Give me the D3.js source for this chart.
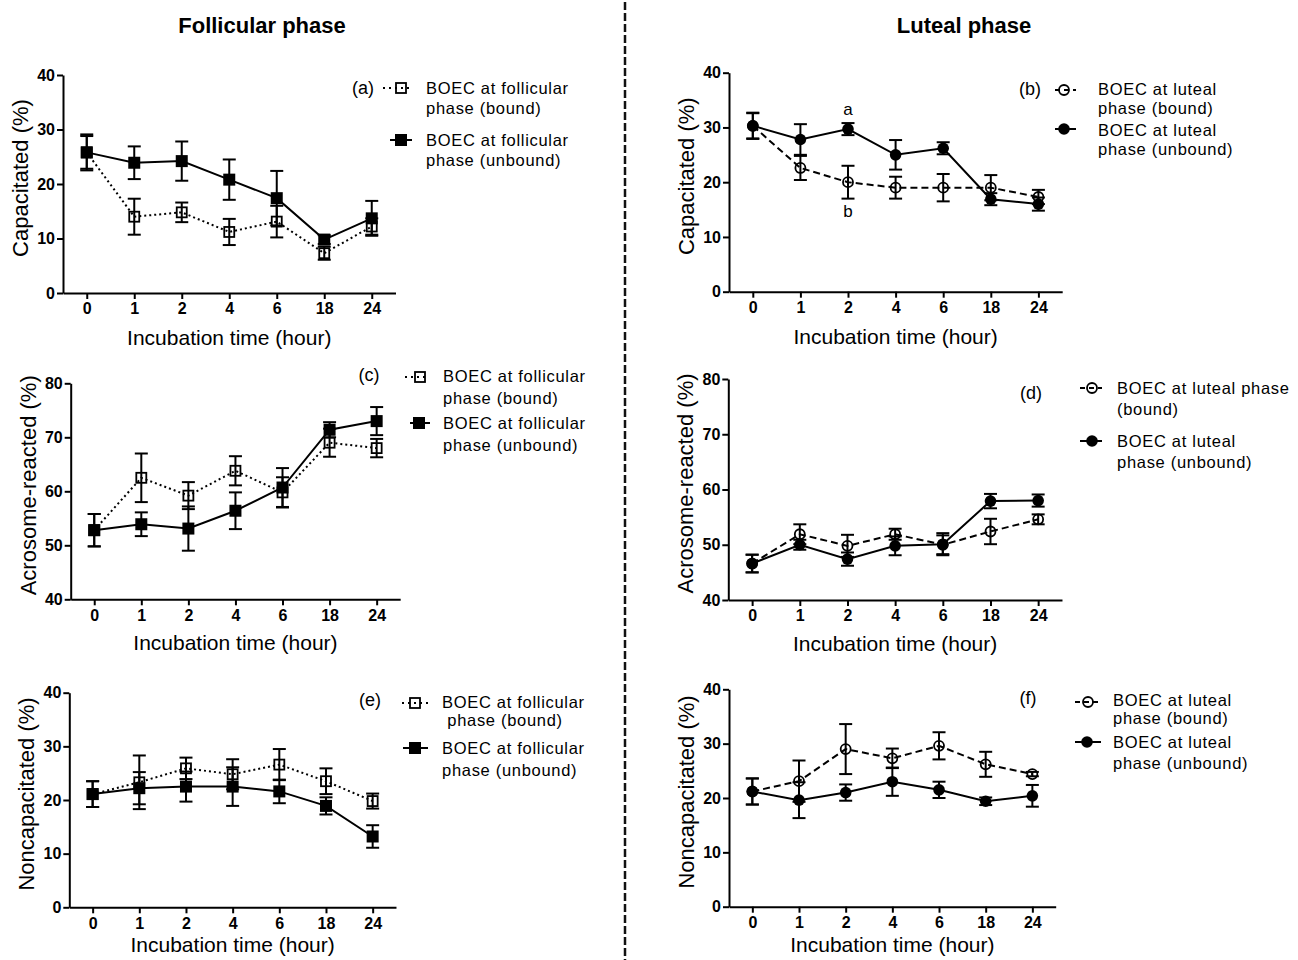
<!DOCTYPE html>
<html>
<head>
<meta charset="utf-8">
<script src="https://cdn.jsdelivr.net/npm/d3@7"></script>
<style>
  body { margin: 0; background: #fff; }
  svg { display: block; font-family: "Liberation Sans", Arial, sans-serif; }
</style>
</head>
<body>
<div id="chart"></div>
<script>
const hours = ["0", "1", "2", "4", "6", "18", "24"];
const capTicks = [0, 10, 20, 30, 40];
const acroTicks = [40, 50, 60, 70, 80];
const phaseTitles = ["Follicular phase", "Luteal phase"];
const panelLabels = ["(a)", "(b)", "(c)", "(d)", "(e)", "(f)"];
const yTitles = ["Capacitated (%)", "Acrosome-reacted (%)", "Noncapacitated (%)"];
const xTitle = "Incubation time (hour)";

// (a) follicular, capacitated
const follCapBound = [25.8, 14.0, 14.8, 11.2, 13.1, 7.3, 12.2];
const follCapBoundErr = [3.0, 3.3, 1.8, 2.4, 2.9, 1.2, 1.5];
const follCapUnbound = [25.8, 23.9, 24.2, 20.8, 17.4, 9.8, 13.7];
const follCapUnboundErr = [3.3, 3.0, 3.6, 3.7, 5.0, 0.8, 3.2];

// (b) luteal, capacitated
const lutCapBound = [30.3, 22.6, 20.0, 19.0, 19.0, 19.0, 17.3];
const lutCapBoundErr = [2.3, 2.2, 3.0, 2.0, 2.5, 2.3, 1.3];
const lutCapUnbound = [30.3, 27.8, 29.7, 25.0, 26.2, 16.9, 16.0];
const lutCapUnboundErr = [2.4, 2.8, 1.1, 2.7, 1.1, 1.1, 1.2];

// (c) follicular, acrosome-reacted
const follAcroBound = [52.8, 62.5, 59.2, 63.8, 59.8, 69.0, 68.0];
const follAcroBoundErr = [3.0, 4.5, 2.5, 2.7, 2.8, 2.6, 1.7];
const follAcroUnbound = [52.8, 53.9, 53.1, 56.4, 60.7, 71.4, 73.0];
const follAcroUnboundErr = [3.0, 2.2, 4.1, 3.4, 3.6, 1.4, 2.6];

// (d) luteal, acrosome-reacted
const lutAcroBound = [46.6, 51.9, 49.8, 51.9, 50.0, 52.4, 54.6];
const lutAcroBoundErr = [1.6, 1.8, 2.0, 1.0, 1.7, 2.3, 0.9];
const lutAcroUnbound = [46.6, 50.0, 47.4, 49.8, 50.1, 57.9, 58.0];
const lutAcroUnboundErr = [1.6, 0.9, 1.2, 1.7, 2.0, 1.3, 1.1];

// (e) follicular, noncapacitated
const follNonBound = [21.1, 23.3, 25.9, 24.8, 26.6, 23.5, 19.8];
const follNonBoundErr = [2.4, 5.0, 2.0, 2.8, 2.9, 2.4, 1.4];
const follNonUnbound = [21.1, 22.2, 22.5, 22.5, 21.6, 18.9, 13.2];
const follNonUnboundErr = [2.4, 3.0, 2.8, 3.6, 2.2, 1.6, 2.1];

// (f) luteal, noncapacitated
const lutNonBound = [21.2, 23.1, 29.0, 27.3, 29.6, 26.2, 24.4];
const lutNonBoundErr = [2.4, 3.8, 4.6, 1.8, 2.5, 2.3, 0.4];
const lutNonUnbound = [21.2, 19.6, 21.0, 23.0, 21.5, 19.4, 20.4];
const lutNonUnboundErr = [2.4, 3.3, 1.5, 2.6, 1.5, 0.7, 2.0];

const legFoll = ["BOEC at follicular", "phase (bound)", "BOEC at follicular", "phase (unbound)"];
const legLut = ["BOEC at luteal", "phase (bound)", "BOEC at luteal", "phase (unbound)"];
const legLutD = ["BOEC at luteal phase", "(bound)", "BOEC at luteal", "phase (unbound)"];
const legFollE = ["BOEC at follicular", " phase (bound)", "BOEC at follicular", "phase (unbound)"];

const svg = d3.select("#chart")
  .append("svg")
    .attr("width", 1298)
    .attr("height", 960);

// phase titles + divider
svg.selectAll(".ptitle")
  .data(phaseTitles)
  .enter()
  .append("text")
    .attr("x", (d, i) => i === 0 ? 262 : 964)
    .attr("y", 33)
    .attr("text-anchor", "middle")
    .style("font-size", "22px")
    .style("font-weight", "bold")
    .text(d => d);

svg.append("line")
  .attr("x1", 625).attr("x2", 625)
  .attr("y1", 2).attr("y2", 960)
  .attr("stroke", "#111")
  .attr("stroke-width", 2.5)
  .attr("stroke-dasharray", "8,3");

const panels = [
  {ax: 63, top: 75, bottom: 293, step: 47.5, ticks: capTicks, domain: [0, 40], ytitle: yTitles[0], tOff: 52,
   bound: follCapBound, boundErr: follCapBoundErr, unbound: follCapUnbound, unboundErr: follCapUnboundErr,
   phase: "foll", legText: legFoll,
   leg: {lx: 363, ly: 88, s1: [383, 412, 401, 88], s2: [390, 412, 401, 140], tx: [426, 426, 426, 426], ty: [88, 108, 140, 160]}},
  {ax: 729, top: 72.7, bottom: 291.7, step: 47.6, ticks: capTicks, domain: [0, 40], ytitle: yTitles[0], tOff: 52,
   bound: lutCapBound, boundErr: lutCapBoundErr, unbound: lutCapUnbound, unboundErr: lutCapUnboundErr,
   phase: "lut", legText: legLut,
   leg: {lx: 1030, ly: 89, s1: [1055, 1076, 1064, 90], s2: [1055, 1076, 1064, 129], tx: [1098, 1098, 1098, 1098], ty: [89, 108, 130, 149]}},
  {ax: 70.7, top: 383.3, bottom: 599.3, step: 47.07, ticks: acroTicks, domain: [40, 80], ytitle: yTitles[1], tOff: 51,
   bound: follAcroBound, boundErr: follAcroBoundErr, unbound: follAcroUnbound, unboundErr: follAcroUnboundErr,
   phase: "foll", legText: legFoll,
   leg: {lx: 369, ly: 375, s1: [405, 428, 420, 377], s2: [410, 430, 419, 423], tx: [443, 443, 443, 443], ty: [376, 398, 423, 445]}},
  {ax: 728.3, top: 379, bottom: 600, step: 47.67, ticks: acroTicks, domain: [40, 80], ytitle: yTitles[1], tOff: 51,
   bound: lutAcroBound, boundErr: lutAcroBoundErr, unbound: lutAcroUnbound, unboundErr: lutAcroUnboundErr,
   phase: "lut", legText: legLutD,
   leg: {lx: 1031, ly: 393, s1: [1080, 1102, 1092, 388], s2: [1080, 1102, 1092, 441], tx: [1117, 1117, 1117, 1117], ty: [388, 409, 441, 462]}},
  {ax: 69.3, top: 692.7, bottom: 907.3, step: 46.67, ticks: capTicks, domain: [0, 40], ytitle: yTitles[2], tOff: 45,
   bound: follNonBound, boundErr: follNonBoundErr, unbound: follNonUnbound, unboundErr: follNonUnboundErr,
   phase: "foll", legText: legFollE,
   leg: {lx: 370, ly: 700, s1: [402, 428, 415, 703], s2: [403, 428, 415, 748], tx: [442, 442, 442, 442], ty: [702, 720, 748, 770]}},
  {ax: 729, top: 689.3, bottom: 906.7, step: 46.67, ticks: capTicks, domain: [0, 40], ytitle: yTitles[2], tOff: 45,
   bound: lutNonBound, boundErr: lutNonBoundErr, unbound: lutNonUnbound, unboundErr: lutNonUnboundErr,
   phase: "lut", legText: legLut,
   leg: {lx: 1028, ly: 698, s1: [1075, 1101, 1088, 702], s2: [1075, 1101, 1087, 742], tx: [1113, 1113, 1113, 1113], ty: [700, 718, 742, 763]}}
];

function marker(g, cx, cy, phase, filled) {
  if (phase === "foll") {
    const s = filled ? 12 : 10;
    g.append("rect")
      .attr("x", cx - s / 2).attr("y", cy - s / 2)
      .attr("width", s).attr("height", s)
      .attr("fill", filled ? "#000" : "none")
      .attr("stroke", "#000")
      .attr("stroke-width", filled ? 0 : 1.8);
  } else {
    g.append("circle")
      .attr("cx", cx).attr("cy", cy)
      .attr("r", filled ? 5.8 : 5)
      .attr("fill", filled ? "#000" : "none")
      .attr("stroke", "#000")
      .attr("stroke-width", filled ? 0 : 1.8);
  }
}

const boundDash = {foll: "2,3", lut: "7,4"};

panels.forEach((p, pi) => {
  const g = svg.append("g");

  const x = d3.scalePoint()
    .domain(hours)
    .range([p.ax, p.ax + 7 * p.step])
    .padding(0.5);

  const y = d3.scaleLinear()
    .domain(p.domain)
    .range([p.bottom, p.top]);

  // axes
  const xa = g.append("g")
    .attr("transform", "translate(0," + p.bottom + ")")
    .call(d3.axisBottom(x).tickSize(6).tickSizeOuter(0).tickPadding(4));
  const ya = g.append("g")
    .attr("transform", "translate(" + p.ax + ",0)")
    .call(d3.axisLeft(y).tickValues(p.ticks).tickSize(6).tickSizeOuter(0).tickPadding(2));
  [xa, ya].forEach(a => {
    a.selectAll("path, line").attr("stroke", "#000").attr("stroke-width", 2);
    a.selectAll("text")
      .attr("fill", "#000")
      .style("font-size", "16px")
      .style("font-weight", "bold")
      .style("font-family", "'Liberation Sans', Arial, sans-serif");
  });

  // axis titles
  g.append("text")
    .attr("x", p.ax + 3.5 * p.step)
    .attr("y", p.bottom + p.tOff)
    .attr("text-anchor", "middle")
    .style("font-size", "21px")
    .text(xTitle);

  g.append("text")
    .attr("transform", "translate(" + (p.ax - 35) + "," + ((p.top + p.bottom) / 2 - 6) + ") rotate(-90)")
    .attr("text-anchor", "middle")
    .style("font-size", "22px")
    .text(p.ytitle);

  const series = [
    {vals: p.bound, errs: p.boundErr, filled: false},
    {vals: p.unbound, errs: p.unboundErr, filled: true}
  ];

  // error bars
  series.forEach(s => {
    s.vals.forEach((v, i) => {
      const cx = x(hours[i]);
      const y1 = y(v - s.errs[i]), y2 = y(v + s.errs[i]);
      g.append("line").attr("x1", cx).attr("x2", cx).attr("y1", y1).attr("y2", y2)
        .attr("stroke", "#000").attr("stroke-width", 2);
      [y1, y2].forEach(yy => {
        g.append("line").attr("x1", cx - 6.5).attr("x2", cx + 6.5).attr("y1", yy).attr("y2", yy)
          .attr("stroke", "#000").attr("stroke-width", 2);
      });
    });
  });

  // lines
  const line = d3.line()
    .x((d, i) => x(hours[i]))
    .y(d => y(d));

  series.forEach(s => {
    g.append("path")
      .datum(s.vals)
      .attr("d", line)
      .attr("fill", "none")
      .attr("stroke", "#000")
      .attr("stroke-width", 2)
      .attr("stroke-dasharray", s.filled ? null : boundDash[p.phase]);
  });

  // markers
  series.forEach(s => {
    s.vals.forEach((v, i) => marker(g, x(hours[i]), y(v), p.phase, s.filled));
  });

  // panel label
  g.append("text")
    .attr("x", p.leg.lx)
    .attr("y", p.leg.ly)
    .attr("dy", "0.35em")
    .attr("text-anchor", "middle")
    .style("font-size", "18px")
    .text(panelLabels[pi]);

  // legend symbols
  [p.leg.s1, p.leg.s2].forEach((s, k) => {
    g.append("line")
      .attr("x1", s[0]).attr("x2", s[1]).attr("y1", s[3]).attr("y2", s[3])
      .attr("stroke", "#000").attr("stroke-width", 2)
      .attr("stroke-dasharray", k === 0 ? (p.phase === "foll" ? "2,4" : "5,4") : null);
    marker(g, s[2], s[3], p.phase, k === 1);
  });

  // legend text
  p.legText.forEach((t, k) => {
    g.append("text")
      .attr("x", p.leg.tx[k])
      .attr("y", p.leg.ty[k])
      .attr("dy", "0.35em")
      .attr("xml:space", "preserve")
      .style("font-size", "16.5px")
      .style("letter-spacing", "0.7px")
      .style("white-space", "pre")
      .text(t);
  });
});

// significance letters in (b)
const sigLetters = ["a", "b"];
const sigX = d3.scalePoint().domain(hours).range([729, 729 + 7 * 47.6]).padding(0.5);
const sigY = d3.scaleLinear().domain([0, 40]).range([291.7, 72.7]);
const sigVals = [lutCapUnbound[2] + 3.6, lutCapBound[2] - 5.3];
svg.selectAll(".sig")
  .data(sigLetters)
  .enter()
  .append("text")
    .attr("x", sigX(hours[2]))
    .attr("y", (d, i) => sigY(sigVals[i]))
    .attr("dy", "0.35em")
    .attr("text-anchor", "middle")
    .style("font-size", "17px")
    .text(d => d);
</script>
</body>
</html>
